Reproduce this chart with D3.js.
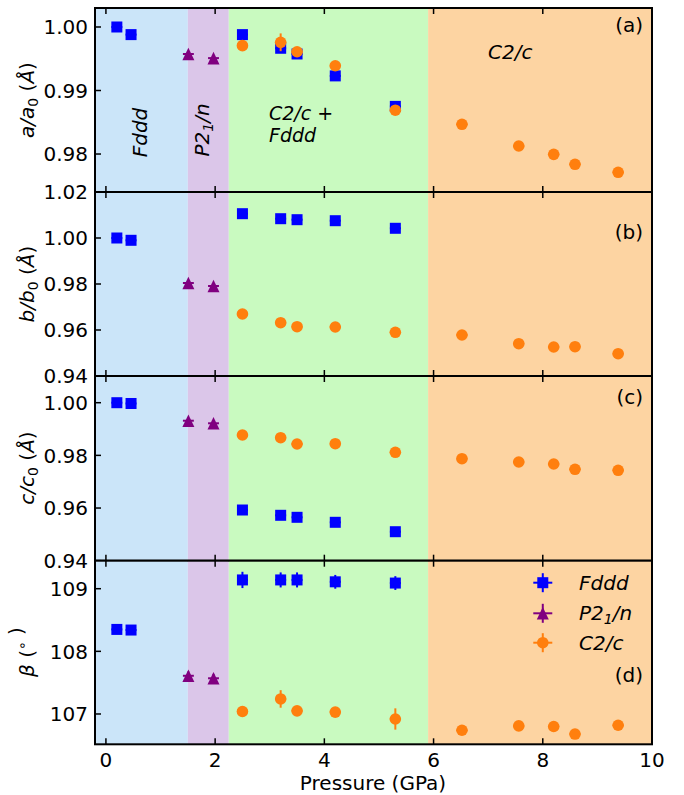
<!DOCTYPE html>
<html><head><meta charset="utf-8">
<script src="https://cdn.jsdelivr.net/npm/d3@7"></script>
<style>body{margin:0;background:#fff} text{font-family:"DejaVu Sans",sans-serif;fill:#000}</style>
</head><body><svg id="c" width="684" height="795"></svg>
<script>
// ---------- data ----------
const fdddP = [0.2, 0.46, 2.5, 3.2, 3.5, 4.2, 5.3];
const p21nP = [1.51, 1.97];
const c2cP  = [2.5, 3.2, 3.5, 4.2, 5.3, 6.52, 7.56, 8.2, 8.59, 9.38];

const aFddd = [1.0000, 0.9988, 0.9988, 0.99665, 0.99575, 0.9923, 0.9875];
const aP21n = [0.99575, 0.9951];
const aC2c  = [0.99706, 0.99759, 0.9961, 0.9939, 0.9869, 0.98468, 0.98126, 0.97995, 0.97838, 0.97712];
const aErrFddd = [0.0002, 0.0002, 0.0002, 0.0002, 0.0002, 0.0002, 0.0002];
const aErrP21n = [0.0002, 0.0002];
const aErrC2c  = [0.0002, 0.0014, 0.0002, 0.0002, 0.0002, 0.0002, 0.0002, 0.0002, 0.0002, 0.0002];

const bFddd = [1.0000, 0.9990, 1.01057, 1.00839, 1.00796, 1.00752, 1.00422];
const bP21n = [0.98043, 0.97913];
const bC2c  = [0.96696, 0.96317, 0.96143, 0.9613, 0.9590, 0.95783, 0.95404, 0.95261, 0.95274, 0.9497];
const bErrFddd = [0.0005, 0.0005, 0.0005, 0.0005, 0.0005, 0.0005, 0.0005];
const bErrP21n = [0.0005, 0.0005];
const bErrC2c  = [0.0005, 0.0005, 0.0005, 0.0005, 0.0005, 0.0005, 0.0005, 0.0005, 0.0005, 0.0005];

const cFddd = [1.0000, 0.9997, 0.95925, 0.95724, 0.95648, 0.95458, 0.95101];
const cP21n = [0.99316, 0.99218];
const cC2c  = [0.98773, 0.98671, 0.98431, 0.98443, 0.98116, 0.97873, 0.97748, 0.97672, 0.97471, 0.97433];
const cErrFddd = [0.0005, 0.0005, 0.0005, 0.0005, 0.0005, 0.0005, 0.0005];
const cErrP21n = [0.0005, 0.0005];
const cErrC2c  = [0.0005, 0.0005, 0.0005, 0.0005, 0.0005, 0.0005, 0.0005, 0.0005, 0.0005, 0.0005];

const betaFddd = [108.35, 108.34, 109.14, 109.14, 109.14, 109.11, 109.09];
const betaP21n = [107.61, 107.57];
const betaC2c  = [107.04, 107.24, 107.05, 107.03, 106.92, 106.74, 106.81, 106.80, 106.68, 106.82];
const betaErrFddd = [0.07, 0.07, 0.13, 0.12, 0.12, 0.11, 0.11];
const betaErrP21n = [0.07, 0.07];
const betaErrC2c  = [0.05, 0.14, 0.05, 0.05, 0.17, 0.04, 0.04, 0.04, 0.04, 0.04];

const pressureErr = 0.1;

const regionNames  = ["Fddd", "P21n", "mix", "C2c"];
const regionBounds = [[-0.2, 1.5], [1.5, 2.25], [2.25, 5.9], [5.9, 10]];
const regionColors = ["#cbe5f9", "#dbc6e9", "#c9fac0", "#fdd4a2"];

const xTicks = [0, 2, 4, 6, 8, 10];
const aTicks = [0.98, 0.99, 1.00];
const bTicks = [0.94, 0.96, 0.98, 1.00, 1.02];
const cTicks = [0.94, 0.96, 0.98, 1.00];
const betaTicks = [107, 108, 109];

const phaseColors = {Fddd: "#0000ff", P21n: "#800080", C2c: "#ff7f0e"};

// ---------- layout ----------
const svg = d3.select("#c");
const L = 95, R = 652;
const x = d3.scaleLinear().domain([-0.2, 10]).range([L, R]);

const panels = [
  {top: 8, bot: 192, dom: [0.97402, 1.00299], ticks: aTicks, fmt: ".2f", letter: "(a)", letterY: 32,
   data: [[fdddP, aFddd, aErrFddd, "Fddd"], [p21nP, aP21n, aErrP21n, "P21n"], [c2cP, aC2c, aErrC2c, "C2c"]]},
  {top: 192, bot: 376, dom: [0.94, 1.02], ticks: bTicks, fmt: ".2f", letter: "(b)", letterY: 239,
   data: [[fdddP, bFddd, bErrFddd, "Fddd"], [p21nP, bP21n, bErrP21n, "P21n"], [c2cP, bC2c, bErrC2c, "C2c"]]},
  {top: 376, bot: 560.7, dom: [0.94, 1.01014], ticks: cTicks, fmt: ".2f", letter: "(c)", letterY: 404,
   data: [[fdddP, cFddd, cErrFddd, "Fddd"], [p21nP, cP21n, cErrP21n, "P21n"], [c2cP, cC2c, cErrC2c, "C2c"]]},
  {top: 560.7, bot: 744.3, dom: [106.516, 109.447], ticks: betaTicks, fmt: "d", letter: "(d)", letterY: 682,
   data: [[fdddP, betaFddd, betaErrFddd, "Fddd"], [p21nP, betaP21n, betaErrP21n, "P21n"], [c2cP, betaC2c, betaErrC2c, "C2c"]]}
];

const FS = 20, SUB = 14;
function drawMarker(g, phase, cx, cy) {
  const col = phaseColors[phase];
  if (phase === "Fddd") {
    g.append("rect").attr("x", cx - 5.5).attr("y", cy - 5.5).attr("width", 11).attr("height", 11).attr("fill", col);
  } else if (phase === "P21n") {
    g.append("path").attr("d", `M${cx},${cy - 6.3}L${cx - 6},${cy + 6.3}L${cx + 6},${cy + 6.3}Z`).attr("fill", col);
  } else {
    g.append("circle").attr("cx", cx).attr("cy", cy).attr("r", 5.8).attr("fill", col);
  }
}

panels.forEach((p, i) => {
  const y = d3.scaleLinear().domain(p.dom).range([p.bot, p.top]);
  const g = svg.append("g");
  g.selectAll("rect.bg").data(regionBounds).enter().append("rect")
    .attr("x", d => x(d[0])).attr("width", d => x(d[1]) - x(d[0]))
    .attr("y", p.top).attr("height", p.bot - p.top)
    .attr("fill", (d, k) => regionColors[k]);
  p.data.forEach(([px, py, pe, phase]) => {
    const col = phaseColors[phase];
    const dg = g.append("g");
    px.forEach((xv, k) => {
      dg.append("line").attr("x1", x(xv)).attr("x2", x(xv)).attr("y1", y(py[k] - pe[k])).attr("y2", y(py[k] + pe[k]))
        .attr("stroke", col).attr("stroke-width", 2);
      dg.append("line").attr("x1", x(xv - pressureErr)).attr("x2", x(xv + pressureErr)).attr("y1", y(py[k])).attr("y2", y(py[k]))
        .attr("stroke", col).attr("stroke-width", 2);
      drawMarker(dg, phase, x(xv), y(py[k]));
    });
  });
  const tk = g.append("g").attr("stroke", "#000").attr("stroke-width", 1.5);
  xTicks.forEach(t => {
    tk.append("line").attr("x1", x(t)).attr("x2", x(t)).attr("y1", p.bot).attr("y2", p.bot - 6);
    tk.append("line").attr("x1", x(t)).attr("x2", x(t)).attr("y1", p.top).attr("y2", p.top + 6);
  });
  p.ticks.forEach(t => {
    tk.append("line").attr("x1", L).attr("x2", L + 6).attr("y1", y(t)).attr("y2", y(t));
  });
  g.append("rect").attr("x", L).attr("y", p.top).attr("width", R - L).attr("height", p.bot - p.top)
    .attr("fill", "none").attr("stroke", "#000").attr("stroke-width", 2);
  p.ticks.forEach(t => {
    svg.append("text").attr("x", L - 7).attr("y", y(t)).attr("dy", "0.36em").attr("text-anchor", "end")
      .attr("font-size", FS).text(d3.format(p.fmt)(t));
  });
  svg.append("text").attr("x", 643).attr("y", p.letterY).attr("text-anchor", "end").attr("font-size", FS).text(p.letter);
});

xTicks.forEach(t => {
  svg.append("text").attr("x", x(t)).attr("y", 767).attr("text-anchor", "middle").attr("font-size", FS).text(t);
});
svg.append("text").attr("x", 373).attr("y", 790).attr("text-anchor", "middle").attr("font-size", FS).text("Pressure (GPa)");

function yLabel(cy, parts) {
  const t = svg.append("text").attr("transform", `translate(34,${cy}) rotate(-90)`).attr("text-anchor", "middle").attr("font-size", FS);
  parts.forEach(([s, style]) => {
    const ts = t.append("tspan").text(s);
    if (style === "i") ts.attr("font-style", "italic");
    if (style === "sub") ts.attr("font-size", SUB).attr("dy", 4);
    if (style === "after") ts.attr("dy", -4);
    if (style === "sup") ts.attr("font-size", SUB).attr("dy", -7);
  });
}
yLabel(100, [["a", "i"], ["/", "i"], ["a", "i"], ["0", "sub"], [" (", "after"], ["Å", "i"], [")", ""]]);
yLabel(284, [["b", "i"], ["/", "i"], ["b", "i"], ["0", "sub"], [" (", "after"], ["Å", "i"], [")", ""]]);
yLabel(468, [["c", "i"], ["/", "i"], ["c", "i"], ["0", "sub"], [" (", "after"], ["Å", "i"], [")", ""]]);
yLabel(652, [["β", "i"], [" (", ""], ["∘", "sup"], [" )", "after"]]);

// phase labels in panel (a)
svg.append("text").attr("transform", "translate(147,132.5) rotate(-90)").attr("text-anchor", "middle")
  .attr("font-size", FS).attr("font-style", "italic").text("Fddd");
const pl = svg.append("text").attr("transform", "translate(209,130) rotate(-90)").attr("text-anchor", "middle")
  .attr("font-size", FS).attr("font-style", "italic");
pl.append("tspan").text("P2");
pl.append("tspan").attr("font-size", SUB).attr("dy", 4).text("1");
pl.append("tspan").attr("dy", -4).text("/n");
svg.append("text").attr("x", 269).attr("y", 119.5).attr("font-size", 19).attr("font-style", "italic").text("C2/c +");
svg.append("text").attr("x", 269).attr("y", 141.8).attr("font-size", 19).attr("font-style", "italic").text("Fddd");
svg.append("text").attr("x", 488).attr("y", 59).attr("font-size", FS).attr("font-style", "italic").text("C2/c");

// legend in panel (d)
const legendPhases = ["Fddd", "P21n", "C2c"];
const legendRowY = [582.7, 613.3, 642.7];
legendPhases.forEach((ph, k) => {
  const cx = x(8), cy = legendRowY[k], col = phaseColors[ph];
  const lg = svg.append("g");
  lg.append("line").attr("x1", cx - 9.5).attr("x2", cx + 9.5).attr("y1", cy).attr("y2", cy).attr("stroke", col).attr("stroke-width", 2);
  lg.append("line").attr("x1", cx).attr("x2", cx).attr("y1", cy - 9.5).attr("y2", cy + 9.5).attr("stroke", col).attr("stroke-width", 2);
  drawMarker(lg, ph, cx, cy);
  const t = svg.append("text").attr("x", 579).attr("y", cy + 7).attr("font-size", FS).attr("font-style", "italic");
  if (ph === "P21n") {
    t.append("tspan").text("P2");
    t.append("tspan").attr("font-size", SUB).attr("dy", 4).text("1");
    t.append("tspan").attr("dy", -4).text("/n");
  } else t.text(ph === "Fddd" ? "Fddd" : "C2/c");
});
</script></body></html>
